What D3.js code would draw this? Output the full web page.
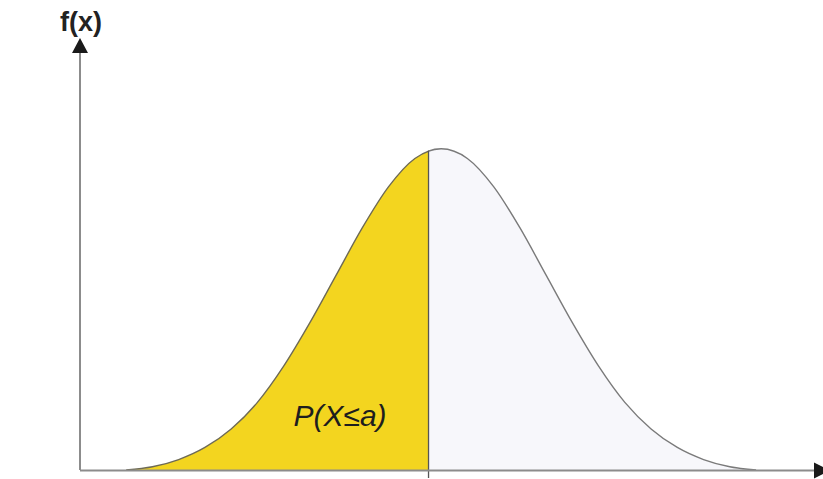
<!DOCTYPE html>
<meta charset="utf-8">
<style>
    * {
        margin: 0px;
    }
    body {
        background: #fff;
    }
    text {
        font-family: "Liberation Sans", Arial, sans-serif;
    }
</style>
<svg width="823" height="479"></svg>
<script src="https://cdn.jsdelivr.net/npm/d3@7"></script>
<script>
    // curve (x in sigma units, f(x) density)
    var xVals = [-3, -2.75, -2.5, -2.25, -2, -1.75, -1.5, -1.25, -1, -0.75, -0.5, -0.25, 0,
                 0.25, 0.5, 0.75, 1, 1.25, 1.5, 1.75, 2, 2.25, 2.5, 2.75, 3];
    var fVals = [0.000, 0.004, 0.013, 0.028, 0.051, 0.084, 0.129, 0.183, 0.242, 0.301, 0.352, 0.387, 0.399,
                 0.387, 0.352, 0.301, 0.242, 0.183, 0.129, 0.084, 0.051, 0.028, 0.013, 0.004, 0.000];
    var splitX = -0.12;      // the "a" cut
    var splitF = 0.397;
    var areaLabel = "P(X\u2264a)";
    var yLabel = "f(x)";

    var svg = d3.select("svg");
    var x0 = 80, x1 = 818, yBase = 470, yTop = 148;

    var x = d3.scaleLinear().domain([-3.44, 3.59]).range([x0, x1]);
    var y = d3.scaleLinear().domain([0, 0.4]).range([yBase, yTop]);

    var pts = xVals.map(function(d, i) { return [d, fVals[i]]; });

    var defs = svg.append("defs");
    defs.append("clipPath").attr("id", "left")
        .append("rect").attr("x", 0).attr("y", 0)
        .attr("width", x(splitX)).attr("height", yBase);
    defs.append("clipPath").attr("id", "right")
        .append("rect").attr("x", x(splitX)).attr("y", 0)
        .attr("width", 823 - x(splitX)).attr("height", yBase);

    var area = d3.area()
        .x(function(d) { return x(d[0]); })
        .y0(y(0))
        .y1(function(d) { return y(d[1]); })
        .curve(d3.curveMonotoneX);

    var line = d3.line()
        .x(function(d) { return x(d[0]); })
        .y(function(d) { return y(d[1]); })
        .curve(d3.curveMonotoneX);

    svg.append("path").datum(pts)
        .attr("d", area)
        .attr("fill", "#f3d51f")
        .attr("clip-path", "url(#left)");

    svg.append("path").datum(pts)
        .attr("d", area)
        .attr("fill", "#f7f7fb")
        .attr("clip-path", "url(#right)");

    svg.append("path").datum(pts)
        .attr("d", line)
        .attr("fill", "none")
        .attr("stroke", "#6e6a55")
        .attr("stroke-width", 1.4)
        .attr("clip-path", "url(#left)");

    svg.append("path").datum(pts)
        .attr("d", line)
        .attr("fill", "none")
        .attr("stroke", "#7a7a7a")
        .attr("stroke-width", 1.4)
        .attr("clip-path", "url(#right)");

    // cut line at a
    svg.append("line")
        .attr("x1", x(splitX)).attr("x2", x(splitX))
        .attr("y1", y(splitF)).attr("y2", yBase + 8)
        .attr("stroke", "#555")
        .attr("stroke-width", 1.3);

    // axes
    svg.append("line")
        .attr("x1", x0).attr("x2", x0)
        .attr("y1", yBase).attr("y2", 50)
        .attr("stroke", "#8c8c8c").attr("stroke-width", 2);
    svg.append("path")
        .attr("d", "M" + x0 + ",38L" + (x0 - 8) + ",53L" + (x0 + 8) + ",53Z")
        .attr("fill", "#1a1a1a");

    svg.append("line")
        .attr("x1", x0).attr("x2", 816)
        .attr("y1", yBase + 0.5).attr("y2", yBase + 0.5)
        .attr("stroke", "#8c8c8c").attr("stroke-width", 2);
    svg.append("path")
        .attr("d", "M830," + (yBase + 0.5) + "L814," + (yBase - 7.5) + "L814," + (yBase + 8.5) + "Z")
        .attr("fill", "#1a1a1a");

    svg.append("text")
        .attr("x", x0 + 1).attr("y", 31)
        .attr("text-anchor", "middle")
        .style("font-size", "27px")
        .style("font-weight", "bold")
        .attr("fill", "#222")
        .text(yLabel);

    svg.append("text")
        .attr("x", 340).attr("y", 426)
        .attr("text-anchor", "middle")
        .style("font-size", "30px")
        .style("font-style", "italic")
        .attr("fill", "#1e1e1e")
        .text(areaLabel);
</script>
